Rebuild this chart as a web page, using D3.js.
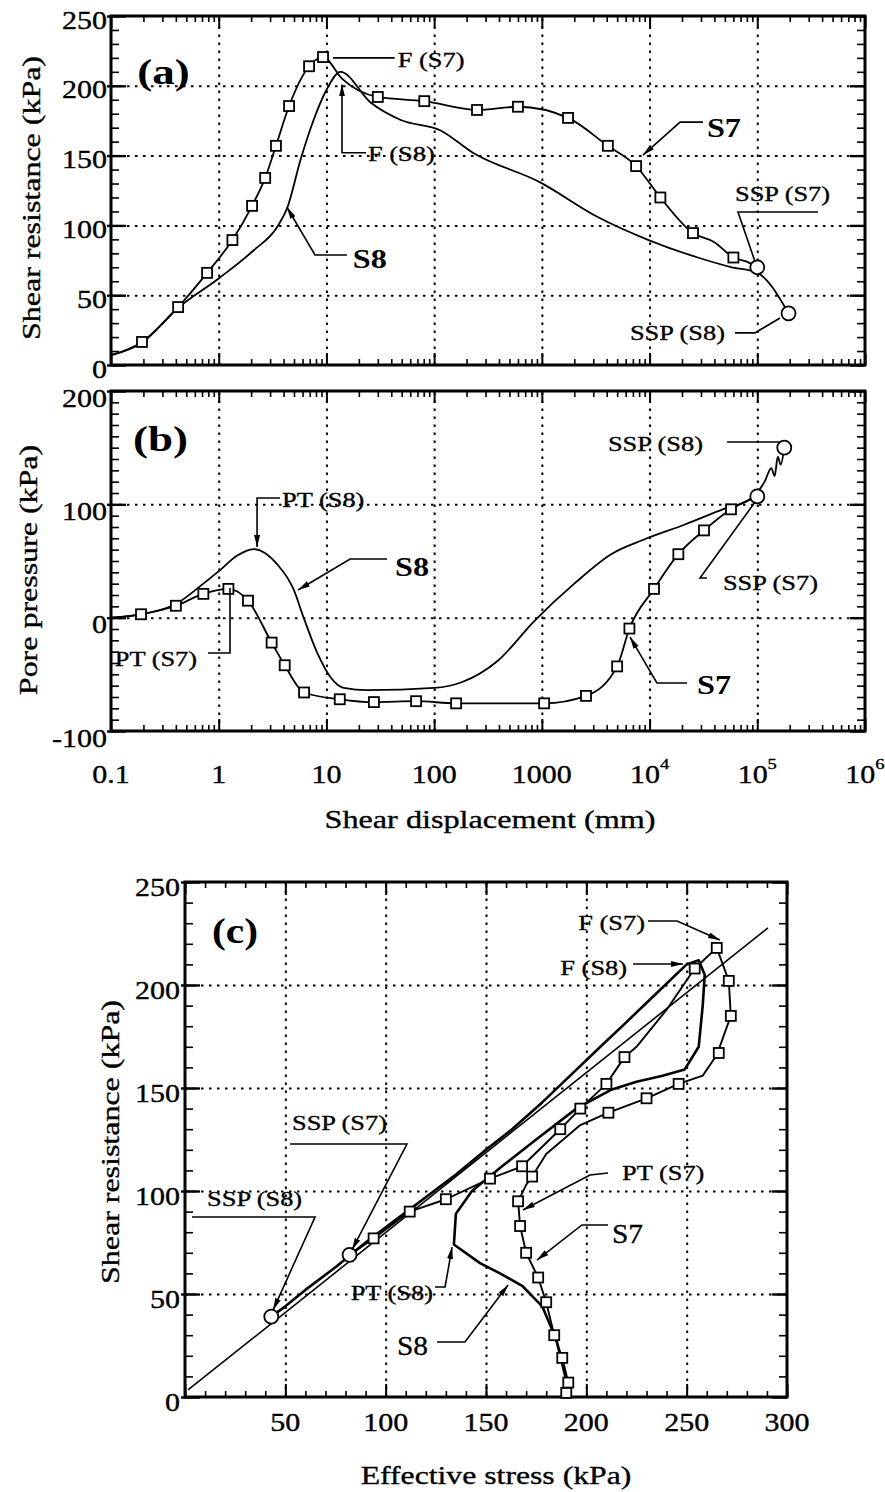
<!DOCTYPE html>
<html><head><meta charset="utf-8">
<script src="https://cdn.jsdelivr.net/npm/d3@7"></script>
<style>body{margin:0;background:#fff}svg{display:block}</style>
</head><body>
<script>
// ---------------- DATA ----------------
const dispTicks = [0.1, 1, 10, 100, 1000, 1e4, 1e5, 1e6];
const dispTickLabels = ["0.1", "1", "10", "100", "1000", "10^4", "10^5", "10^6"];
const shearTicks = [0, 50, 100, 150, 200, 250];
const poreTicks = [-100, 0, 100, 200];
const stressTicks = [50, 100, 150, 200, 250, 300];

// (a) shear resistance vs shear displacement
const s7DispA  = [0.1, 0.194, 0.42, 0.78, 1.34, 2.04, 2.7, 3.4, 4.5, 6.9, 9.3, 14, 30, 81, 250, 600, 1750, 4100, 7500, 12600, 25300, 40000, 60000, 80000, 1e5];
const s7ShearA = [7, 16.5, 41.5, 66, 89.5, 114, 134, 157, 185.5, 214, 220.6, 205, 192, 189, 182.7, 185, 177, 157, 142.5, 120, 94.5, 88, 77, 74, 70];
const s7MarkDispA  = [0.194, 0.42, 0.78, 1.34, 2.04, 2.7, 3.4, 4.5, 6.9, 9.3, 30, 81, 250, 600, 1750, 4100, 7500, 12600, 25300, 60000];
const s7MarkShearA = [16.5, 41.5, 66, 89.5, 114, 134, 157, 185.5, 214, 220.6, 192, 189, 182.7, 185, 177, 157, 142.5, 120, 94.5, 77];
const s8DispA  = [0.1, 0.194, 0.42, 1, 2.1, 3.5, 4.35, 5.75, 7.6, 10, 13.5, 25.7, 49, 115, 229, 955, 3300, 9800, 28000, 58000, 1e5, 1.95e5];
const s8ShearA = [7, 16, 41, 62, 82, 99, 113, 147, 175.5, 197, 210, 188, 175.5, 168, 152, 131, 106, 89.5, 77, 70, 66, 37];
const sspDispA  = [1e5, 1.95e5];
const sspShearA = [70, 37];

// (b) pore pressure vs shear displacement
const s7DispB = [0.1, 0.19, 0.40, 0.72, 1.23, 1.87, 3.1, 4.1, 6.2, 13.3, 27.6, 68, 160, 1050, 2570, 5000, 6500, 11000, 18500, 32000, 57000, 1e5];
const s7PoreB = [0, 3, 10.5, 21, 25.4, 15, -22, -42, -66, -72, -74.5, -73.7, -75.6, -75.6, -69, -43, -9.6, 25.4, 56, 77, 95.6, 107];
const s8DispB = [0.1, 0.19, 0.4, 0.72, 1, 1.5, 2.1, 3.5, 4.9, 6.2, 8.3, 11, 14.5, 24, 100, 180, 390, 850, 2000, 4400, 8900, 21000, 49000, 87000, 117000, 135000, 145000, 155000, 165000, 178000];
const s8PoreB = [0, 3, 12, 30, 41, 55, 60.5, 47, 26, -1, -32, -53, -62, -64, -62, -57, -38, -3, 30, 56, 69, 82, 96, 105, 120, 132, 125, 142, 135, 150];
const sspDispB = [1e5, 1.78e5];
const sspPoreB = [107, 150];

// (c) stress path: shear resistance vs effective stress
const s7StressC = [192, 191, 188, 184, 180, 176, 170, 167, 166, 170, 173, 180, 197, 211, 230, 246, 258, 265, 272, 271, 265, 254, 240, 225, 219, 210, 197, 187, 168, 152, 130, 112, 94, 82];
const s7ShearC  = [0, 7, 19, 30, 46, 58, 70, 83, 95, 103, 107, 118, 132, 138, 145, 152, 156, 166, 185, 202, 218, 208, 188, 170, 165, 152, 140, 130, 112, 106, 96, 90, 77, 69];
const s7MarkStressC = [190, 191, 188, 184, 180, 176, 170, 167, 166, 173, 211, 230, 246, 266, 272, 271, 265, 254, 219, 210, 197, 187, 168, 152, 130, 112, 94];
const s7MarkShearC  = [2, 7, 19, 30, 46, 58, 70, 83, 95, 107, 138, 145, 152, 167, 185, 202, 218, 208, 165, 152, 140, 130, 112, 106, 96, 90, 77];
const s8StressC = [192, 189, 185, 178, 168, 157, 147, 134, 135, 143, 158, 175, 195, 212, 225, 238, 249, 256, 258, 259, 256, 250, 235, 220, 207, 193, 178, 163, 150, 135, 120, 105, 90, 75, 60, 50, 43];
const s8ShearC  = [0, 12, 28, 44, 54, 60, 65, 74, 89, 100, 112, 125, 140, 149, 153, 156, 159, 170, 190, 205, 212, 210, 196, 182, 170, 157, 143, 130, 120, 108, 97, 86, 75, 63, 52, 44, 39];
const sspStressC = [82, 43];
const sspShearC  = [69, 39];
const failStress = [1.5, 290.5];
const failShear  = [3.4, 227.7];

// ---------------- SETUP ----------------
const FONT = "'Liberation Serif','Times New Roman',serif";
const svg = d3.select("body").append("svg").attr("width", 885).attr("height", 1492)
  .style("font-family", FONT);
const defs = svg.append("defs");
defs.append("marker").attr("id", "arr").attr("viewBox", "0 0 12 6")
  .attr("refX", 12).attr("refY", 3).attr("markerWidth", 12).attr("markerHeight", 6)
  .attr("markerUnits", "userSpaceOnUse").attr("orient", "auto")
  .append("path").attr("d", "M0,0 L12,3 L0,6 Z").attr("fill", "#000");

const xA = d3.scaleLog().domain([0.1, 1e6]).range([111, 865]);
const yA = d3.scaleLinear().domain([0, 250]).range([365, 16]);
const xB = xA.copy();
const yB = d3.scaleLinear().domain([-100, 200]).range([731, 391]);
const xC = d3.scaleLinear().domain([0, 300]).range([185, 787]);
const yC = d3.scaleLinear().domain([0, 250]).range([1397, 882]);

function txt(x, y, str, o = {}) {
  const t = svg.append("text")
    .attr("transform", `translate(${x},${y}) rotate(${o.rot || 0}) scale(${o.sx || 1.2},1)`)
    .attr("text-anchor", o.anchor || "start")
    .attr("dominant-baseline", "central")
    .attr("font-size", o.size || 22)
    .attr("font-weight", o.bold ? "bold" : "normal")
    .attr("fill", "#000")
    .attr("stroke", "#000").attr("stroke-width", o.bold ? 0 : 0.35);
  if (str.includes("^")) {
    const [b, e] = str.split("^");
    t.append("tspan").text(b);
    t.append("tspan").attr("dy", -10).attr("font-size", (o.size || 22) * 0.62).text(e);
  } else t.text(str);
  return t;
}

function styleAxis(g, w) {
  g.select(".domain").remove();
  g.selectAll("line").attr("stroke", "#000").attr("stroke-width", w || 1.6);
  g.selectAll("text").remove();
}

function grid(x, y, xv, yv) {
  const [x0, x1] = x.range(), [y0, y1] = y.range();
  const g = svg.append("g");
  g.append("g").attr("transform", `translate(0,${y0})`)
    .call(d3.axisBottom(x).tickValues(xv).tickSize(-(y0 - y1)).tickFormat(""));
  g.append("g").attr("transform", `translate(${x0},0)`)
    .call(d3.axisLeft(y).tickValues(yv).tickSize(-(x1 - x0)).tickFormat(""));
  g.selectAll(".domain").remove();
  g.selectAll("line").attr("stroke", "#000").attr("stroke-width", 2)
    .attr("stroke-dasharray", "2.5,5.5");
}

function ticks(x, y, xMinor, xMajor, yMinor, yMajor, lx, LX, ly, LY) {
  const [x0, x1] = x.range(), [y0, y1] = y.range();
  const add = (axis, tr, w) => styleAxis(svg.append("g").attr("transform", tr).call(axis), w);
  add(d3.axisBottom(x).tickValues(xMinor).tickSize(-lx), `translate(0,${y0})`);
  add(d3.axisBottom(x).tickValues(xMajor).tickSize(-LX), `translate(0,${y0})`, 2);
  add(d3.axisTop(x).tickValues(xMinor).tickSize(-lx), `translate(0,${y1})`);
  add(d3.axisTop(x).tickValues(xMajor).tickSize(-LX), `translate(0,${y1})`, 2);
  add(d3.axisLeft(y).tickValues(yMinor).tickSize(-ly), `translate(${x0},0)`);
  add(d3.axisLeft(y).tickValues(yMajor).tickSize(-LY), `translate(${x0},0)`, 2.4);
  add(d3.axisLeft(y).tickValues(yMajor).tickSize(4), `translate(${x0},0)`, 2.4);
  add(d3.axisRight(y).tickValues(yMinor).tickSize(-ly), `translate(${x1},0)`);
  add(d3.axisRight(y).tickValues(yMajor).tickSize(-LY), `translate(${x1},0)`, 2.4);
  svg.append("rect").attr("x", x0).attr("y", y1).attr("width", x1 - x0).attr("height", y0 - y1)
    .attr("fill", "none").attr("stroke", "#000").attr("stroke-width", 3);
}

function path(x, y, xs, ys, w, curve) {
  const line = d3.line().x(d => x(d[0])).y(d => y(d[1])).curve(curve || d3.curveLinear);
  svg.append("path").datum(d3.zip(xs, ys)).attr("d", line)
    .attr("fill", "none").attr("stroke", "#000").attr("stroke-width", w || 1.8)
    .attr("stroke-linejoin", "round");
}
function squares(x, y, xs, ys) {
  svg.append("g").selectAll("rect").data(d3.zip(xs, ys)).join("rect")
    .attr("x", d => x(d[0]) - 5).attr("y", d => y(d[1]) - 5).attr("width", 10).attr("height", 10)
    .attr("fill", "#fff").attr("stroke", "#000").attr("stroke-width", 1.8);
}
function circles(x, y, xs, ys) {
  svg.append("g").selectAll("circle").data(d3.zip(xs, ys)).join("circle")
    .attr("cx", d => x(d[0])).attr("cy", d => y(d[1])).attr("r", 7)
    .attr("fill", "#fff").attr("stroke", "#000").attr("stroke-width", 1.8);
}
function annot(x, y, list) {
  list.forEach(a => {
    if (a.leader) {
      const ln = d3.line().x(d => x(d[0])).y(d => y(d[1]));
      const p = svg.append("path").attr("d", ln(a.leader)).attr("fill", "none")
        .attr("stroke", "#000").attr("stroke-width", 1.6);
      if (a.arrow) p.attr("marker-end", "url(#arr)");
    }
    txt(x(a.at[0]), y(a.at[1]), a.text, a.o || {});
  });
}

const logMinor = d3.range(-1, 6).flatMap(n => d3.range(2, 10).map(k => k * Math.pow(10, n)));
const logMajor = dispTicks;

// ---------------- PANEL (a) ----------------
grid(xA, yA, [1, 10, 100, 1000, 1e4, 1e5], [50, 100, 150, 200]);
ticks(xA, yA, logMinor, logMajor, d3.range(0, 251, 10), shearTicks, 6, 12, 8, 15);
path(xA, yA, s8DispA, s8ShearA, 1.8, d3.curveMonotoneX);
path(xA, yA, s7DispA, s7ShearA, 1.8, d3.curveMonotoneX);
squares(xA, yA, s7MarkDispA, s7MarkShearA);
circles(xA, yA, sspDispA, sspShearA);
shearTicks.forEach(v => txt(xA.range()[0] - 4, yA(v) + 4, String(v), {anchor: "end", size: 25, sx: 1.2}));
annot(xA, yA, [
  {text: "(a)", at: [0.175, 210], o: {size: 36, bold: true, sx: 1.25}},
  {text: "F (S7)", at: [46, 219], leader: [[11.5, 220], [43, 220]]},
  {text: "F (S8)", at: [24.3, 152], leader: [[23.3, 152], [13.95, 152], [13.95, 201]], arrow: true},
  {text: "S8", at: [17.6, 76], o: {size: 28, bold: true, sx: 1.15}, leader: [[15.5, 78.8], [7.83, 78.8], [4.3, 113]], arrow: true},
  {text: "S7", at: [34100, 170], o: {size: 28, bold: true, sx: 1.15}, leader: [[31300, 174], [19200, 174], [8690, 150.4]], arrow: true},
  {text: "SSP (S7)", at: [62100, 123], leader: [[366000, 109.6], [66200, 109.6], [95300, 74]]},
  {text: "SSP (S8)", at: [50100, 23.6], o: {anchor: "end"}, leader: [[62100, 23], [95300, 23], [162500, 33.7]]}
]);
txt(31, 198, "Shear resistance (kPa)", {rot: -90, anchor: "middle", size: 26, sx: 1.23});

// ---------------- PANEL (b) ----------------
grid(xB, yB, [1, 10, 100, 1000, 1e4, 1e5], [0, 100]);
ticks(xB, yB, logMinor, logMajor, d3.range(-100, 201, 10), poreTicks, 6, 12, 8, 15);
path(xB, yB, s8DispB, s8PoreB, 1.8, d3.curveMonotoneX);
path(xB, yB, s7DispB, s7PoreB, 1.8, d3.curveMonotoneX);
squares(xB, yB, s7DispB.slice(1, -1), s7PoreB.slice(1, -1));
circles(xB, yB, sspDispB, sspPoreB);
poreTicks.forEach(v => txt(xB.range()[0] - 4, yB(v) + 7, String(v), {anchor: "end", size: 25, sx: 1.2}));
dispTicks.forEach((v, i) => txt(xB(v), yB.range()[0] + 43, dispTickLabels[i], {anchor: "middle", size: 25, sx: 1.2}));
annot(xB, yB, [
  {text: "(b)", at: [0.16, 158], o: {size: 36, bold: true, sx: 1.25}},
  {text: "PT (S8)", at: [3.87, 104], leader: [[3.71, 105.6], [2.27, 105.6], [2.27, 62.4]], arrow: true},
  {text: "S8", at: [43.3, 45], o: {size: 28, bold: true, sx: 1.15}, leader: [[36.5, 51.8], [16.6, 51.8], [5.45, 24.4]], arrow: true},
  {text: "PT (S7)", at: [0.63, -35.6], o: {anchor: "end"}, leader: [[0.796, -31.2], [1.273, -31.2], [1.273, 26.2]]},
  {text: "SSP (S8)", at: [31300, 154], o: {anchor: "end"}, leader: [[52400, 155], [162500, 155]]},
  {text: "SSP (S7)", at: [48000, 31.5], leader: [[34100, 35], [29400, 35], [95300, 102]]},
  {text: "S7", at: [27600, -59.4], o: {size: 28, bold: true, sx: 1.15}, leader: [[22300, -57.6], [11700, -57.6], [6585, -17.1]], arrow: true}
]);
txt(28, 570, "Pore pressure (kPa)", {rot: -90, anchor: "middle", size: 26, sx: 1.23});
txt(490, 819, "Shear displacement (mm)", {anchor: "middle", size: 26, sx: 1.24});

// ---------------- PANEL (c) ----------------
grid(xC, yC, [50, 100, 150, 200, 250], [50, 100, 150, 200]);
ticks(xC, yC, d3.range(0, 301, 10), [0, ...stressTicks], d3.range(0, 251, 10), shearTicks, 6, 13, 8, 15);
path(xC, yC, failStress, failShear, 1.6);
path(xC, yC, s8StressC, s8ShearC, 2.6);
path(xC, yC, s7StressC, s7ShearC, 1.9);
squares(xC, yC, s7MarkStressC, s7MarkShearC);
circles(xC, yC, sspStressC, sspShearC);
shearTicks.forEach(v => txt(xC.range()[0] - 5, yC(v) + 5, String(v), {anchor: "end", size: 25, sx: 1.2}));
stressTicks.forEach(v => txt(xC(v), yC.range()[0] + 25, String(v), {anchor: "middle", size: 25, sx: 1.2}));
annot(xC, yC, [
  {text: "(c)", at: [13.5, 226.7], o: {size: 36, bold: true, sx: 1.15}},
  {text: "F (S7)", at: [229.2, 230.6], o: {anchor: "end"}, leader: [[230.7, 231.1], [245.2, 231.1], [266.6, 221.8]], arrow: true},
  {text: "F (S8)", at: [220.3, 208.7], o: {anchor: "end"}, leader: [[223.3, 210.2], [248.2, 210.2]], arrow: true},
  {text: "SSP (S7)", at: [53.3, 133.5], leader: [[52.3, 122.8], [110.6, 122.8], [83.2, 71.4]], arrow: true},
  {text: "SSP (S8)", at: [11, 96.6], leader: [[3.5, 87.4], [64.8, 87.4], [43.9, 42.2]], arrow: true},
  {text: "PT (S8)", at: [123.6, 51], o: {anchor: "end"}, leader: [[124.6, 53.4], [129.6, 53.4], [133.1, 72.8]], arrow: true},
  {text: "S8", at: [105.6, 25.2], o: {size: 28, sx: 1.05}, leader: [[125.6, 26.7], [139.5, 26.7], [161, 54.4]], arrow: true},
  {text: "PT (S7)", at: [217.8, 109.2], leader: [[210.8, 108.7], [201.8, 107.8], [168.4, 90.8]], arrow: true},
  {text: "S7", at: [212.8, 79.6], o: {size: 28, sx: 1.05}, leader: [[210.8, 83.5], [197.8, 83.5], [175.4, 66.5]], arrow: true}
]);
txt(110, 1142, "Shear resistance (kPa)", {rot: -90, anchor: "middle", size: 26, sx: 1.23});
txt(496, 1475, "Effective stress (kPa)", {anchor: "middle", size: 26, sx: 1.22});
</script>
</body></html>
